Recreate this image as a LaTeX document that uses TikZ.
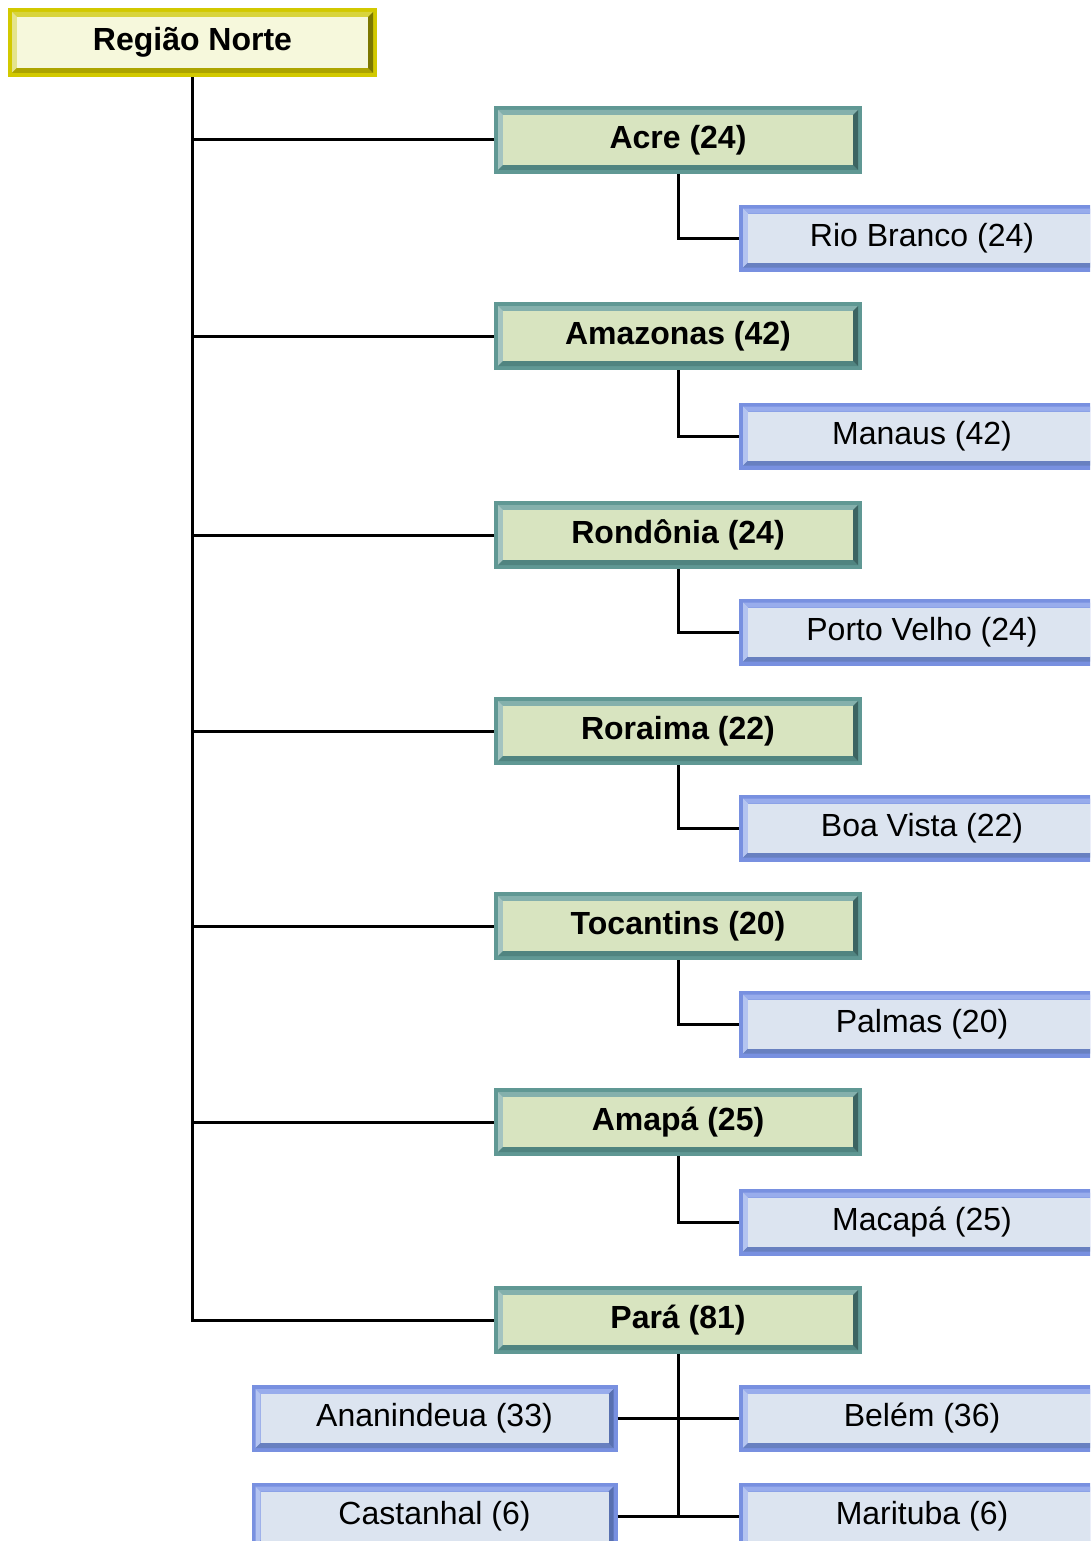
\documentclass[tikz,border=0pt]{standalone}
\usepackage{fontspec}
\setmainfont{Liberation Sans}
\usetikzlibrary{calc}

% bevel palettes: base, top, left, bottom, right, face
\definecolor{yBase}{HTML}{D2C900}\definecolor{yTop}{HTML}{D8D43C}\definecolor{yLeft}{HTML}{E4E48C}
\definecolor{yBot}{HTML}{ACA400}\definecolor{yRight}{HTML}{7C7800}\definecolor{yFace}{HTML}{F6F8DC}
\definecolor{tBase}{HTML}{609894}\definecolor{tTop}{HTML}{84B0AC}\definecolor{tLeft}{HTML}{A4C4C0}
\definecolor{tBot}{HTML}{508480}\definecolor{tRight}{HTML}{3C6462}\definecolor{tFace}{HTML}{D8E4C0}
\definecolor{bBase}{HTML}{7890E0}\definecolor{bTop}{HTML}{98ACEC}\definecolor{bLeft}{HTML}{B4C4F0}
\definecolor{bBot}{HTML}{6880C0}\definecolor{bRight}{HTML}{5870B0}\definecolor{bFace}{HTML}{DCE4F0}

\tikzset{
  bevel/.style n args={6}{
    rectangle, inner sep=0pt, fill=#1,
    path picture={
      \def\o{4pt}\def\b{9pt}
      \coordinate (NW) at (path picture bounding box.north west);
      \coordinate (NE) at (path picture bounding box.north east);
      \coordinate (SW) at (path picture bounding box.south west);
      \coordinate (SE) at (path picture bounding box.south east);
      % top band
      \fill[#2] ($(NW)+(\o,-\o)$) -- ($(NE)+(-\o,-\o)$) -- ($(NE)+(-\b,-\b)$) -- ($(NW)+(\b,-\b)$) -- cycle;
      % left band
      \fill[#3] ($(NW)+(\o,-\o)$) -- ($(NW)+(\b,-\b)$) -- ($(SW)+(\b,\b)$) -- ($(SW)+(\o,\o)$) -- cycle;
      % bottom band
      \fill[#4] ($(SW)+(\o,\o)$) -- ($(SE)+(-\o,\o)$) -- ($(SE)+(-\b,\b)$) -- ($(SW)+(\b,\b)$) -- cycle;
      % right band
      \fill[#5] ($(NE)+(-\o,-\o)$) -- ($(SE)+(-\o,\o)$) -- ($(SE)+(-\b,\b)$) -- ($(NE)+(-\b,-\b)$) -- cycle;
      % face
      \fill[#6] ($(NW)+(\b,-\b)$) rectangle ($(SE)+(-\b,\b)$);
    },
    font=\fontsize{32}{38}\selectfont
  },
  region/.style={bevel={yBase}{yTop}{yLeft}{yBot}{yRight}{yFace},
    minimum width=369pt, minimum height=69pt, font=\fontsize{32}{38}\selectfont\bfseries},
  state/.style={bevel={tBase}{tTop}{tLeft}{tBot}{tRight}{tFace},
    minimum width=368pt, minimum height=68pt, font=\fontsize{32}{38}\selectfont\bfseries},
  city/.style={bevel={bBase}{bTop}{bLeft}{bBot}{bRight}{bFace},
    minimum width=366pt, minimum height=67pt},
  link/.style={draw=black, line width=3pt}
}

\begin{document}
\begin{tikzpicture}[x=1pt, y=-1pt]
  \useasboundingbox (0,0) rectangle (1090,1541);
  \clip (0,0) rectangle (1090,1541);
  \fill[white] (0,0) rectangle (1090,1541);

  % root
  \node[region] (norte) at (192.5,42.5) {Região Norte};

  % states
  \node[state] (acre) at (678,140)  {Acre (24)};
  \node[state] (amaz) at (678,336)  {Amazonas (42)};
  \node[state] (rond) at (678,535)  {Rondônia (24)};
  \node[state] (rora) at (678,731)  {Roraima (22)};
  \node[state] (toca) at (678,926)  {Tocantins (20)};
  \node[state] (amap) at (678,1122) {Amapá (25)};
  \node[state] (para) at (678,1320) {Pará (81)};

  % capitals and cities
  \node[city] (rio)  at (922,238)  {Rio Branco (24)};
  \node[city] (man)  at (922,436)  {Manaus (42)};
  \node[city] (pvel) at (922,632)  {Porto Velho (24)};
  \node[city] (boav) at (922,828)  {Boa Vista (22)};
  \node[city] (palm) at (922,1024) {Palmas (20)};
  \node[city] (maca) at (922,1222) {Macapá (25)};
  \node[city] (anan) at (434.5,1418.5) {Ananindeua (33)};
  \node[city] (bel)  at (922,1418.5)   {Belém (36)};
  \node[city] (cast) at (434.5,1516)   {Castanhal (6)};
  \node[city] (mari) at (922,1516)     {Marituba (6)};

  % trunk from the region down to the last state
  \draw[link] (norte.south) |- (para.west);
  \foreach \s in {acre,amaz,rond,rora,toca,amap}
    \draw[link] (norte.south |- \s.west) -- (\s.west);

  % state to capital
  \draw[link] (acre.south) |- (rio.west);
  \draw[link] (amaz.south) |- (man.west);
  \draw[link] (rond.south) |- (pvel.west);
  \draw[link] (rora.south) |- (boav.west);
  \draw[link] (toca.south) |- (palm.west);
  \draw[link] (amap.south) |- (maca.west);

  % Pará and its cities
  \draw[link] (para.south) -- (para.south |- cast.east);
  \draw[link] (anan.east) -- (bel.west);
  \draw[link] (cast.east) -- (mari.west);
\end{tikzpicture}
\end{document}
